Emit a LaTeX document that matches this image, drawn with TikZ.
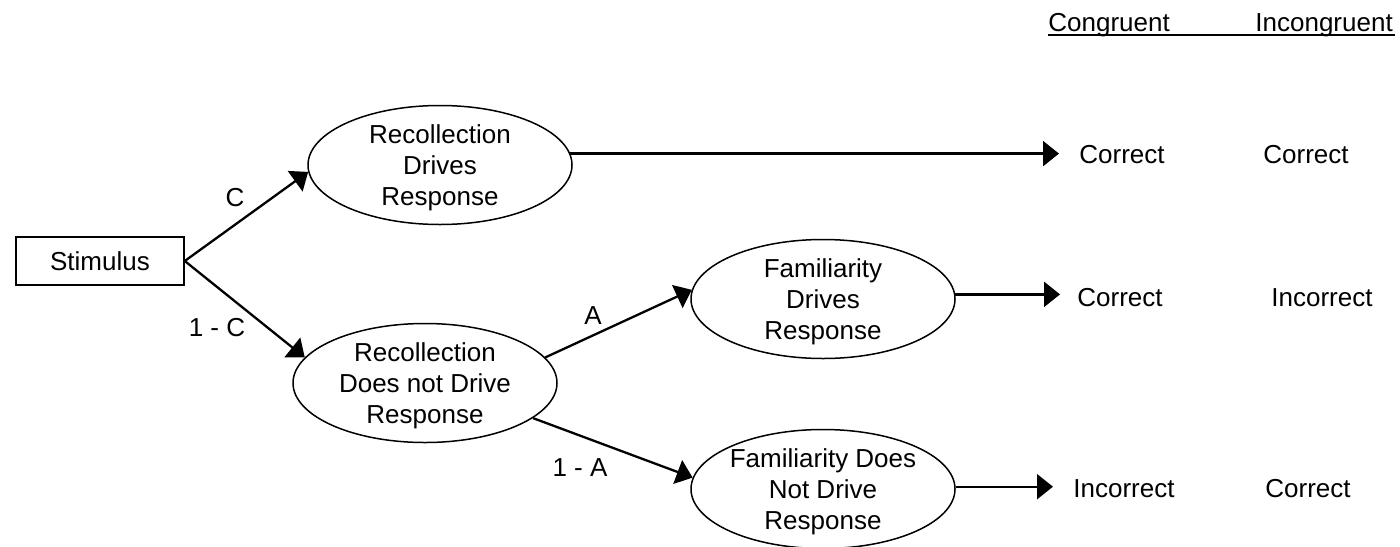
\documentclass[tikz,border=0pt]{standalone}
\usepackage{fontspec}
\setmainfont{Liberation Sans}
\usetikzlibrary{shapes.geometric,arrows.meta}
\begin{document}
\begin{tikzpicture}[x=0.5pt,y=-0.5pt,
  every node/.style={font=\fontsize{13}{15.5}\selectfont},
  stimbox/.style={draw,line width=0.75pt,minimum width=84pt,minimum height=24pt,inner sep=0pt},
  ell/.style={draw,ellipse,line width=0.75pt,minimum width=132pt,minimum height=59.5pt,inner sep=-6pt,align=center,text depth=0pt},
  lbl/.style={inner sep=0pt,text height=9.3pt,text depth=0pt},
  arr/.style={line width=1.15pt,-{Triangle[length=8pt,width=12.5pt]}}]
\useasboundingbox (0,0) rectangle (1400,546);
% headers
\node[lbl,anchor=west] (cong) at (1048,22.5) {Congruent};
\node[lbl,anchor=west] (incong) at (1255,22.5) {Incongruent};
\draw[line width=0.75pt] ([yshift=-1.5pt]cong.south west) -- ([yshift=-1.5pt,xshift=1pt]incong.south east);
% nodes
\node[stimbox] (stim) at (100,261) {Stimulus};
\node[ell] (r1) at (440,165) {Recollection\\Drives\\Response};
\node[ell] (r2) at (425,383) {Recollection\\Does not Drive\\Response};
\node[ell] (f1) at (823,299) {Familiarity\\Drives\\Response};
\node[ell] (f2) at (823,489) {Familiarity Does\\Not Drive\\Response};
% outcomes
\node[lbl,anchor=west] (c11) at (1079,154) {Correct};
\node[lbl,anchor=west] (c12) at (1263,154) {Correct};
\node[lbl,anchor=west] (c21) at (1077,297) {Correct};
\node[lbl,anchor=west] (c22) at (1271,297) {Incorrect};
\node[lbl,anchor=west] (c31) at (1073,488) {Incorrect};
\node[lbl,anchor=west] (c32) at (1265,488) {Correct};
\coordinate (e1) at (1059,153);
\coordinate (e2) at (1060,295);
\coordinate (e3) at (1053,487);
% connectors
\draw[arr] (stim.east) -- (r1.183);
\draw[arr] (stim.east) -- (r2.168);
\draw[arr] (r2.12) -- (f1.176);
\draw[arr] (r2.-18) -- (f2.175);
\draw[arr] (r1.5) -- (r1.5 -| e1);
\draw[arr] (f1.2) -- (f1.2 -| e2);
\draw[arr] (f2.1) -- (f2.1 -| e3);
% branch labels
\node[lbl] (lc) at (235,197) {C};
\node[lbl] (l1c) at (217,327) {1 - C};
\node[lbl] (la) at (593,315) {A};
\node[lbl] (l1a) at (580,467) {1 - A};
\end{tikzpicture}
\end{document}
